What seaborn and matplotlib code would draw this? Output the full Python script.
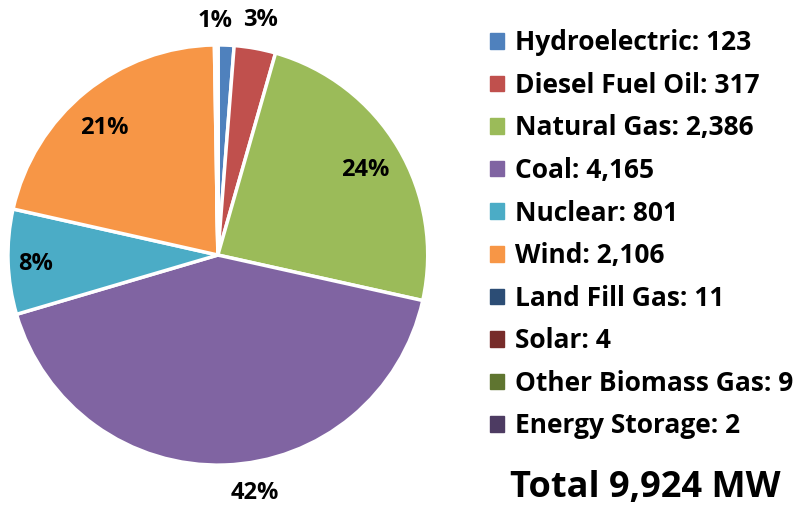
import matplotlib.pyplot as plt
import matplotlib.patches as mpatches
import numpy as np
import seaborn as sns

# Capacity by fuel type (MW)
sources = ["Hydroelectric", "Diesel Fuel Oil", "Natural Gas", "Coal", "Nuclear",
           "Wind", "Land Fill Gas", "Solar", "Other Biomass Gas", "Energy Storage"]
capacity = [123, 317, 2386, 4165, 801, 2106, 11, 4, 9, 2]
colors = ["#4F81BD", "#C0504D", "#9BBB59", "#8064A2", "#4BACC6",
          "#F79646", "#2C4D75", "#772C2A", "#5F7530", "#4D3B62"]
# percent label placement: fraction of radius and angle nudge in degrees (None = no label)
label_dist = [1.13, 1.15, 0.815, 1.13, 0.87, 0.82, None, None, None, None]
label_nudge = [3, 0, 0, 7, 0, 2, 0, 0, 0, 0]

sns.set_theme(style="white")
plt.rcParams["font.family"] = ["Open Sans", "DejaVu Sans"]
plt.rcParams["text.color"] = "black"

total = sum(capacity)

fig = plt.figure(figsize=(7.98, 5.05), dpi=100)
ax = fig.add_axes([0.010, 0.079, 0.526, 0.832])

wedges, _ = ax.pie(capacity, colors=colors, startangle=90, counterclock=False,
                   wedgeprops=dict(edgecolor="white", linewidth=2.5))
ax.set_xlim(-1, 1)
ax.set_ylim(-1, 1)
ax.set_aspect("auto")

for w, v, d, n in zip(wedges, capacity, label_dist, label_nudge):
    if d is None:
        continue
    ang = np.deg2rad((w.theta1 + w.theta2) / 2 + n)
    ax.text(d * np.cos(ang), d * np.sin(ang), f"{v / total:.0%}",
            ha="center", va="center_baseline", fontsize=17, fontweight="bold",
            color="black", clip_on=False)

handles = [mpatches.Patch(color=c, label=f"{s}: {v:,}")
           for s, v, c in zip(sources, capacity, colors)]
fig.legend(handles=handles, loc="upper left", bbox_to_anchor=(0.601, 0.963),
           frameon=False, handlelength=0.53, handleheight=0.53, handletextpad=0.42,
           labelspacing=0.59, borderaxespad=0,
           prop=dict(size=19, weight="bold"))

fig.text(0.808, 0.016, f"Total {total:,} MW", ha="center", va="baseline",
         fontsize=26, fontweight="bold", color="black")

fig.savefig("out.png", dpi=100)
